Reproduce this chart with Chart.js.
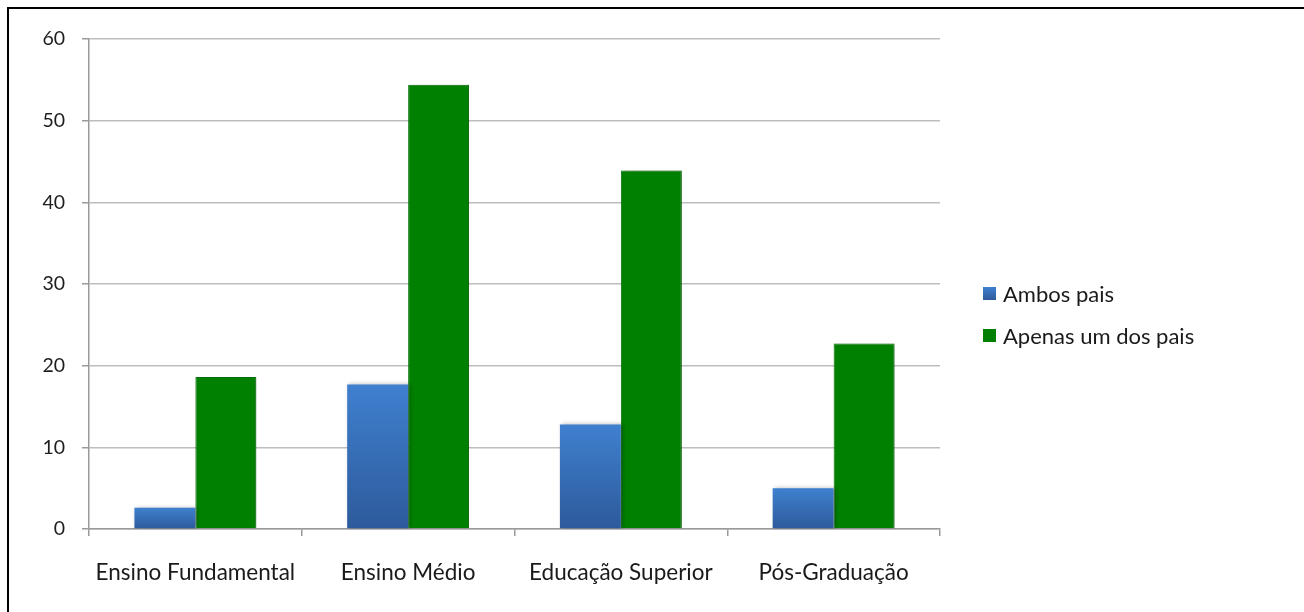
<!DOCTYPE html>
<html>
<head>
<meta charset="utf-8">
<script src="https://cdn.jsdelivr.net/npm/chart.js@4"></script>
<style>
    html, body { margin: 0; padding: 0; background: #fff; overflow: hidden; }
    body { width: 1304px; height: 612px; position: relative; font-family: Lato, sans-serif; }
    #chartWrap { position: absolute; left: 0; top: 0; width: 1304px; height: 612px; }
    .frame { position: absolute; left: 7px; top: 7px; right: 0; bottom: 0; border-top: 2px solid #000; border-left: 2px solid #000; pointer-events: none; }
    .legend { position: absolute; left: 983px; top: 272px; }
    .legend-item { display: flex; align-items: center; height: 42px; font-size: 22px; color: #1a1a1a; }
    .legend-item .swatch { width: 13px; height: 13px; margin-right: 7px; }
</style>
</head>
<body>
<div id="chartWrap"><canvas id="schoolingChart" width="1304" height="612"></canvas></div>
<div class="frame"></div>
<div class="legend" id="legend"></div>

<script>
const categories = ['Ensino Fundamental', 'Ensino Médio', 'Educação Superior', 'Pós-Graduação'];
const seriesNames = ['Ambos pais', 'Apenas um dos pais'];
const bothParents = [2.6, 17.7, 12.8, 5.0];
const oneParent = [18.6, 54.4, 43.9, 22.7];
const yTicks = [0, 10, 20, 30, 40, 50, 60];

const BLUE_TOP = '#3f80cf';
const BLUE_BOTTOM = '#2d5a9b';
const GREEN = '#008000';

// vertical gradient per bar, from its top down to the baseline
function blueFill(context) {
    const chart = context.chart;
    if (!chart.chartArea || context.dataIndex === undefined) return BLUE_TOP;
    const y = chart.scales.y;
    const top = y.getPixelForValue(context.raw);
    const base = y.getPixelForValue(0);
    const g = chart.ctx.createLinearGradient(0, top, 0, base);
    g.addColorStop(0, BLUE_TOP);
    g.addColorStop(1, BLUE_BOTTOM);
    return g;
}

// soft shadow behind the bars
const barShadow = {
    id: 'barShadow',
    beforeDatasetsDraw(chart) {
        const ctx = chart.ctx;
        ctx.save();
        ctx.shadowColor = 'rgba(0, 0, 0, 0.28)';
        ctx.shadowBlur = 4;
        ctx.shadowOffsetX = 2;
        ctx.shadowOffsetY = 0;
    },
    afterDatasetsDraw(chart) {
        chart.ctx.restore();
    }
};

new Chart(document.getElementById('schoolingChart').getContext('2d'), {
    type: 'bar',
    data: {
        labels: categories,
        datasets: [
            { label: seriesNames[0], data: bothParents, backgroundColor: blueFill, borderWidth: 0 },
            { label: seriesNames[1], data: oneParent, backgroundColor: GREEN, borderColor: '#0a7a0a', borderWidth: 1 }
        ]
    },
    plugins: [barShadow],
    options: {
        responsive: false,
        animation: false,
        layout: { padding: { left: 29, top: 39, right: 364, bottom: 23 } },
        datasets: { bar: { categoryPercentage: 0.573, barPercentage: 1 } },
        plugins: {
            legend: { display: false },
            tooltip: { enabled: false },
            title: { display: false }
        },
        scales: {
            x: {
                afterFit(scale) { scale.height = 60; },
                grid: { drawOnChartArea: false, offset: true, tickLength: 7, color: '#9a9a9a', lineWidth: 1.5 },
                border: { color: '#9a9a9a', width: 1.5 },
                ticks: { color: '#1a1a1a', font: { family: 'Lato', size: 22.5 }, padding: 23, maxRotation: 0 }
            },
            y: {
                min: 0,
                max: 60,
                afterFit(scale) { scale.width = 60; },
                afterBuildTicks(scale) { scale.ticks = yTicks.map(v => ({ value: v })); },
                grid: { color: '#bdbdbd', lineWidth: 1.5, tickLength: 7, tickColor: '#9a9a9a' },
                border: { color: '#9a9a9a', width: 1.5 },
                ticks: { color: '#1e1e1e', font: { family: 'Lato', size: 19.5 }, padding: 17 }
            }
        }
    }
});

// legend built from the same series names and colours
const legendEl = document.getElementById('legend');
legendEl.innerHTML = seriesNames.map((name, i) => `
    <div class="legend-item">
        <span class="swatch" style="background:${i === 0 ? `linear-gradient(${BLUE_TOP}, ${BLUE_BOTTOM})` : GREEN}"></span>
        <span>${name}</span>
    </div>
`).join('');
</script>
</body>
</html>
